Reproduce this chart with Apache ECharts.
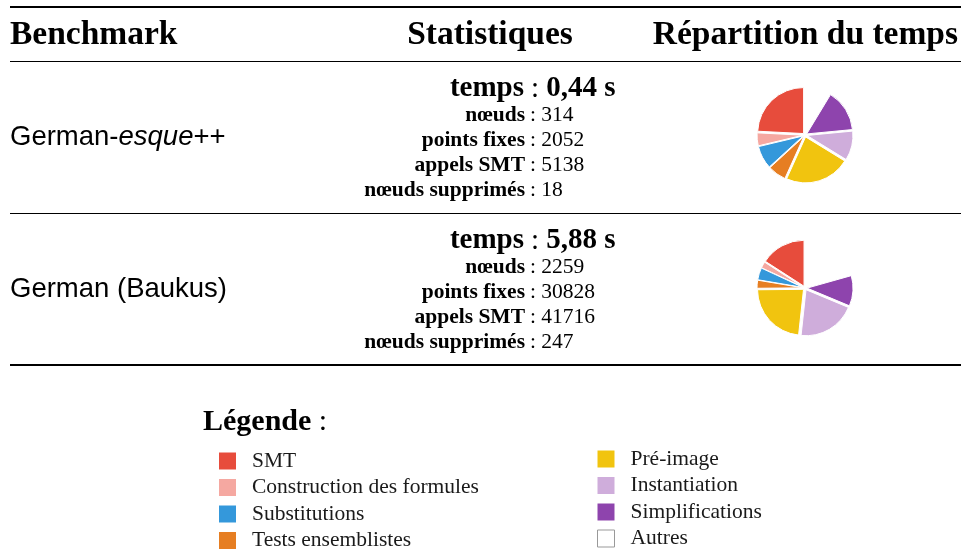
<!DOCTYPE html>
<html>
<head>
<meta charset="utf-8">
<script src="https://cdn.jsdelivr.net/npm/echarts@6/dist/echarts.min.js"></script>
<style>html,body{margin:0;padding:0;background:#fff}#c{width:961px;height:554px}</style>
</head>
<body>
<div id="c"></div>
<script>
const headers = ['Benchmark', 'Statistiques', 'Répartition du temps'];
const benchmarks = ['German-{i|esque}++', 'German (Baukus)'];
const temps = ['0,44 s', '5,88 s'];
const noeuds = [314, 2259];
const pointsFixes = [2052, 30828];
const appelsSMT = [5138, 41716];
const noeudsSupprimes = [18, 247];
const categories = ['SMT', 'Construction des formules', 'Substitutions', 'Tests ensemblistes',
                    'Pré-image', 'Instantiation', 'Simplifications', 'Autres'];
const colors = ['#e74c3c', '#f5a8a1', '#3498db', '#e67e22', '#f1c40f', '#cfaddb', '#8e44ad', '#ffffff'];
const shares1 = [24.0, 4.5, 8.0, 6.4, 22.8, 10.2, 14.7, 8.6];
const shares2 = [15.8, 2.2, 4.2, 2.8, 23.0, 20.3, 10.6, 20.5];

const SERIF = '"Liberation Serif", "Times New Roman", serif';
const SANS = '"Liberation Sans", Arial, sans-serif';
const chart = echarts.init(document.getElementById('c'));

const graphic = [];
function hline(top, w) {
  graphic.push({type: 'rect', shape: {x: 10, y: top, width: 951, height: w}, style: {fill: '#000'}, silent: true});
}
hline(6, 2); hline(61, 1); hline(213, 1); hline(364, 2);
// headers
const HF = 'bold 33.5px ' + SERIF;
graphic.push({type: 'text', x: 10, y: 35, style: {text: headers[0], font: HF, fill: '#000', verticalAlign: 'middle'}});
graphic.push({type: 'text', x: 490, y: 35, style: {text: headers[1], font: HF, fill: '#000', align: 'center', verticalAlign: 'middle'}});
graphic.push({type: 'text', x: 958, y: 35, style: {text: headers[2], font: HF, fill: '#000', align: 'right', verticalAlign: 'middle'}});

for (let r = 0; r < 2; r++) {
  const off = r * 152;
  graphic.push({type: 'text', x: 10, y: 137 + off, style: {
    text: benchmarks[r], font: '27.5px ' + SANS, fill: '#000', verticalAlign: 'middle',
    rich: {i: {font: 'italic 27.5px ' + SANS, fill: '#000'}}
  }});
  // temps line
  graphic.push({type: 'text', x: 524, y: 89 + off, style: {text: 'temps', font: 'bold 29px ' + SERIF, fill: '#000', align: 'right', verticalAlign: 'middle'}});
  graphic.push({type: 'text', x: 531, y: 89 + off, style: {
    text: '{c|:} {v|' + temps[r] + '}', font: '29px ' + SERIF, fill: '#000', verticalAlign: 'middle',
    rich: {c: {font: '29px ' + SERIF, fill: '#000'}, v: {font: 'bold 29px ' + SERIF, fill: '#000'}}
  }});
  const lines = [['nœuds', noeuds[r]], ['points fixes', pointsFixes[r]], ['appels SMT', appelsSMT[r]], ['nœuds supprimés', noeudsSupprimes[r]]];
  lines.forEach((ln, k) => {
    const y = 115 + off + k * 25;
    graphic.push({type: 'text', x: 525, y: y, style: {text: ln[0], font: 'bold 21.5px ' + SERIF, fill: '#000', align: 'right', verticalAlign: 'middle'}});
    graphic.push({type: 'text', x: 530, y: y, style: {text: ': ' + ln[1], font: '21.5px ' + SERIF, fill: '#000', verticalAlign: 'middle'}});
  });
}
// legend title
graphic.push({type: 'text', x: 203, y: 422, style: {
  text: '{b|Légende} :', font: '30px ' + SERIF, fill: '#000', verticalAlign: 'middle',
  rich: {b: {font: 'bold 30px ' + SERIF, fill: '#000'}}
}});

function pieData(vals) {
  return categories.map((c, i) => ({name: c, value: vals[i], selected: true, itemStyle: {color: colors[i]}}));
}
function pie(vals, cy) {
  return {
    type: 'pie', center: [805, cy], radius: [0, 46], startAngle: 90, clockwise: false,
    selectedMode: 'multiple', selectedOffset: 2, silent: true,
    label: {show: false}, labelLine: {show: false},
    itemStyle: {borderColor: '#fff', borderWidth: 1},
    emphasis: {disabled: true},
    data: pieData(vals)
  };
}
function legendData(names) {
  return names.map(n => n === 'Autres'
    ? {name: n, itemStyle: {color: '#fff', borderColor: '#999', borderWidth: 1}}
    : {name: n, itemStyle: {borderWidth: 0}});
}
const legendBase = {
  orient: 'vertical', itemWidth: 17, itemHeight: 17, itemGap: 4.5, selectedMode: false,
  icon: 'rect', height: 140,
  textStyle: {fontFamily: SERIF, fontSize: 21.5, color: '#1a1a1a', lineHeight: 17, padding: [0, 0, 0, 11]}
};
chart.setOption({
  animation: false,
  backgroundColor: '#fff',
  legend: [
    Object.assign({}, legendBase, {left: 214, top: 445, data: legendData(categories.slice(0, 4))}),
    Object.assign({}, legendBase, {left: 592, top: 443, data: legendData(categories.slice(4))})
  ],
  series: [pie(shares1, 135), pie(shares2, 288)],
  graphic: graphic
});
</script>
</body>
</html>
